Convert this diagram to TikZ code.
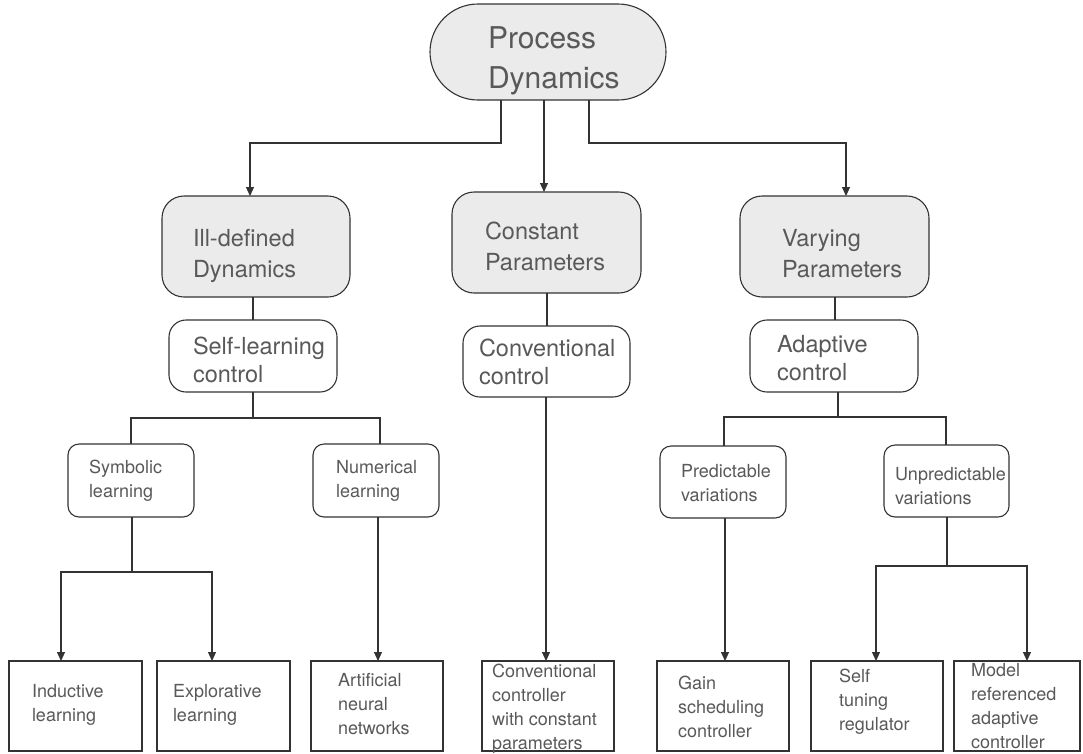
\documentclass[tikz,border=0pt]{standalone}
\usepackage{fontspec}
\setmainfont{TeX Gyre Heros}
\usetikzlibrary{arrows.meta}
\newcommand\mkbox[6]{\node[#1, minimum width={(#5-#3)*1pt}, minimum height={(#6-#4)*1pt}] (#2) at ({(#3+#5)/2},{(#4+#6)/2}) {};}
\tikzset{
  base/.style={draw=black!80, line width=1.1pt, inner sep=0pt, outer sep=0pt},
  graybox/.style={base, fill=black!8, rounded corners=22pt},
  pdbox/.style={base, fill=black!8, rounded corners=48pt},
  ctrlbox/.style={base, fill=white, rounded corners=17pt},
  smallbox/.style={base, fill=white, rounded corners=11pt},
  leafbox/.style={base, fill=white},
  lbl/.style={inner sep=0pt, outer sep=0pt, anchor=base west, align=left, text=black!65},
  big/.style={lbl, font=\fontsize{30}{40}\selectfont},
  mid/.style={lbl, font=\fontsize{23.5}{31}\selectfont},
  ctl/.style={lbl, font=\fontsize{23.5}{28}\selectfont},
  sml/.style={lbl, font=\fontsize{18}{23.5}\selectfont},
  leaf/.style={lbl, font=\fontsize{18}{23.7}\selectfont},
  con/.style={draw=black!80, line width=1.1pt},
  arr/.style={con, -{Triangle[width=8pt,length=9pt]}}
}
\begin{document}
\begin{tikzpicture}[x=1pt,y=-1pt]
\useasboundingbox[fill=white] (0,0) rectangle (1083,753);
% boxes
\mkbox{pdbox}{pd}{430}{4}{666}{100}
\mkbox{graybox}{ill}{162}{196}{350}{297}
\mkbox{graybox}{cp}{452}{192}{641}{293}
\mkbox{graybox}{vp}{740}{196}{929}{297}
\mkbox{ctrlbox}{sl}{169}{320}{337}{392}
\mkbox{ctrlbox}{cc}{463}{326}{630}{397}
\mkbox{ctrlbox}{ac}{750}{320}{918}{392}
\mkbox{smallbox}{sym}{68}{444}{194}{517}
\mkbox{smallbox}{num}{313}{444}{439}{517}
\mkbox{smallbox}{pred}{660}{446}{786}{518}
\mkbox{smallbox}{unp}{884}{445}{1009}{517}
\mkbox{leafbox}{ind}{9}{661}{142}{751}
\mkbox{leafbox}{exp}{157}{661}{290}{751}
\mkbox{leafbox}{ann}{311}{661}{443}{751}
\mkbox{leafbox}{ccp}{482}{661}{614}{751}
\mkbox{leafbox}{gain}{657}{661}{789}{751}
\mkbox{leafbox}{str}{811}{661}{943}{751}
\mkbox{leafbox}{mrac}{954}{661}{1080}{751}
% texts (anchored at the baseline of the last line)
\node[big] (pdt) at (488,88) {Process\\Dynamics};
\node[mid] (illt) at (193,277) {Ill-defined\\Dynamics};
\node[mid] (cpt) at (485,270) {Constant\\Parameters};
\node[mid] (vpt) at (782,277) {Varying\\Parameters};
\node[ctl] (slt) at (193,382) {Self-learning\\control};
\node[ctl] (cct) at (479,384) {Conventional\\control};
\node[ctl] (act) at (777,380) {Adaptive\\control};
\node[sml] (symt) at (89,497) {Symbolic\\learning};
\node[sml] (numt) at (336,497) {Numerical\\learning};
\node[sml] (predt) at (681,501) {Predictable\\variations};
\node[sml] (unpt) at (895,504) {Unpredictable\\variations};
\node[leaf] (indt) at (32,721) {Inductive\\learning};
\node[leaf] (expt) at (173,721) {Explorative\\learning};
\node[leaf] (annt) at (338,734) {Artificial\\neural\\networks};
\node[leaf] (ccpt) at (492,749) {Conventional\\controller\\with constant\\parameters};
\node[leaf] (gaint) at (678,737) {Gain\\scheduling\\controller};
\node[leaf] (strt) at (839,730) {Self\\tuning\\regulator};
\node[leaf] (mract) at (971,748) {Model\\referenced\\adaptive\\controller};
% connectors
\draw[arr] (pd.south -| 501,0) |- (250,143) -- (ill.north -| 250,0);
\draw[arr] (pd.south -| 544,0) -- (cp.north -| 544,0);
\draw[arr] (pd.south -| 589,0) |- (846,143) -- (vp.north -| 846,0);
\draw[con] (ill.south -| 253,0) -- (sl.north -| 253,0);
\draw[con] (cp.south -| 547,0) -- (cc.north -| 547,0);
\draw[con] (vp.south -| 835,0) -- (ac.north -| 835,0);
\draw[con] (sl.south -| 253,0) -- (253,418) -| (sym.north -| 131,0);
\draw[con] (253,418) -| (num.north -| 380,0);
\draw[con] (ac.south -| 838,0) -- (838,417) -| (pred.north -| 724,0);
\draw[con] (838,417) -| (unp.north -| 946,0);
\draw[arr] (sym.south -| 132,0) -- (132,572) -| (ind.north -| 61,0);
\draw[arr] (132,572) -| (exp.north -| 212,0);
\draw[arr] (num.south -| 378,0) -- (ann.north -| 378,0);
\draw[arr] (cc.south -| 546,0) -- (ccp.north -| 546,0);
\draw[arr] (pred.south -| 725,0) -- (gain.north -| 725,0);
\draw[arr] (unp.south -| 947,0) -- (947,566) -| (str.north -| 876,0);
\draw[arr] (947,566) -| (mrac.north -| 1027,0);
\end{tikzpicture}
\end{document}
